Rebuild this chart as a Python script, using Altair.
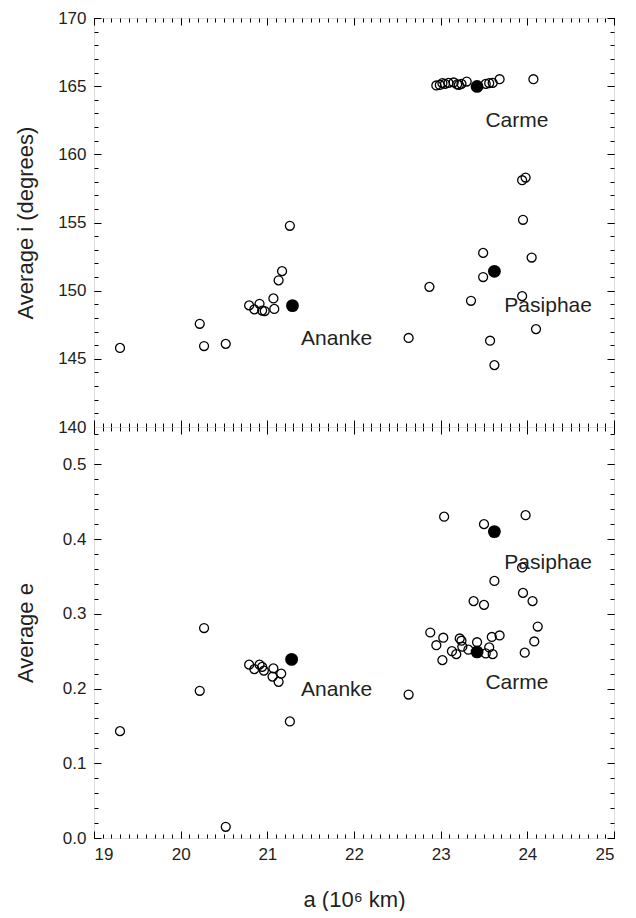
import altair as alt
import pandas as pd
import numpy as np

FONT = "Liberation Sans"
INK = "#231f20"

# ---- top panel: average inclination (degrees) ----
top_open_a = [22.95, 22.99, 23.02, 23.05, 23.09, 23.15, 23.19, 23.21, 23.24, 23.30,
              23.52, 23.56, 23.60, 23.68, 24.07,
              19.30, 20.22, 20.27, 20.52, 20.79, 20.85, 20.91, 20.94, 20.97, 21.07,
              21.08, 21.13, 21.17, 21.26, 22.63, 22.87, 23.35, 23.49, 23.49, 23.57,
              23.62, 23.94, 23.95, 23.94, 23.98, 24.05, 24.10]
top_open_i = [165.05, 165.09, 165.22, 165.17, 165.24, 165.27, 165.14, 165.09, 165.17, 165.34,
              165.17, 165.22, 165.24, 165.51, 165.51,
              145.8, 147.57, 145.94, 146.1, 148.92, 148.63, 149.04, 148.54, 148.5, 149.43,
              148.66, 150.76, 151.43, 154.76, 146.53, 150.28, 149.26, 152.77, 151.0, 146.33,
              144.54, 149.6, 155.2, 158.1, 158.3, 152.43, 147.18]
top_fill_a = [21.29, 23.42, 23.62]
top_fill_i = [148.9, 164.98, 151.42]

# ---- bottom panel: average eccentricity ----
bot_open_a = [19.30, 20.22, 20.27, 20.52, 20.79, 20.85, 20.91, 20.94, 20.96, 21.07,
              21.06, 21.16, 21.13, 21.26, 22.63,
              22.88, 23.03, 22.95, 23.22, 23.24, 23.13, 23.18, 23.25, 23.32, 23.42,
              23.59, 23.68, 23.56, 23.52, 23.60, 24.08, 23.97, 23.02,
              23.04, 23.50, 23.98, 23.94, 23.62, 23.38, 23.50, 23.95, 24.06, 24.12]
bot_open_e = [0.143, 0.197, 0.281, 0.015, 0.232, 0.226, 0.232, 0.229, 0.224, 0.227,
              0.216, 0.220, 0.209, 0.156, 0.192,
              0.275, 0.268, 0.258, 0.267, 0.264, 0.250, 0.246, 0.256, 0.252, 0.262,
              0.269, 0.271, 0.255, 0.247, 0.246, 0.263, 0.248, 0.238,
              0.430, 0.420, 0.432, 0.362, 0.344, 0.317, 0.312, 0.328, 0.317, 0.283]
bot_fill_a = [21.28, 23.42, 23.62]
bot_fill_e = [0.239, 0.249, 0.410]

# ---- group labels ----
label_names = ["Carme", "Ananke", "Pasiphae"]
label_a = [23.88, 21.80, 24.24]
top_label_i = [162.46, 146.45, 148.9]
bot_label_e = [0.208, 0.198, 0.368]

# ---- axes ----
x_major = [19, 20, 21, 22, 23, 24, 25]
x_minor = [round(v, 1) for v in np.arange(19.0, 25.001, 0.1)]
i_major = [140, 145, 150, 155, 160, 165, 170]
i_minor = list(range(140, 171))
e_major = [0.0, 0.1, 0.2, 0.3, 0.4, 0.5]
e_minor = [round(v, 2) for v in np.arange(0.0, 0.551, 0.02)]

W = 520
H_TOP = 409
H_BOT = 411

xscale = alt.Scale(domain=[19, 25], nice=False, zero=False)


def tick_axis(orient, values, size):
    return alt.Axis(orient=orient, values=values, labels=False, domain=False,
                    grid=False, ticks=True, tickSize=size, offset=-size,
                    tickColor="black", tickWidth=1, title=None,
                    minExtent=0, maxExtent=0)


def panel(df_open, df_fill, df_lab, ycol, yscale, ymaj, ymin, yfmt, ytitle, h, show_x):
    base = alt.Chart(df_open)
    layers = []
    # tick layers (inward ticks on all four sides)
    specs = [("bottom", "left", 7, x_major, ymaj), ("bottom", "left", 4, x_minor, ymin),
             ("top", "right", 7, x_major, ymaj), ("top", "right", 4, x_minor, ymin)]
    for xo, yo, s, xv, yv in specs:
        layers.append(base.mark_point(opacity=0).encode(
            x=alt.X("a:Q", scale=xscale, axis=tick_axis(xo, xv, s)),
            y=alt.Y(f"{ycol}:Q", scale=yscale, axis=tick_axis(yo, yv, s)),
        ))
    # label layer
    if show_x:
        xaxis = alt.Axis(orient="bottom", values=x_major, format="d", ticks=False, tickSize=0,
                         domain=False, grid=False, labelFontSize=17, labelFont=FONT,
                         labelColor=INK, labelPadding=8, title="a (10\u2076 km)",
                         titleFont=FONT, titleFontSize=22, titleFontWeight="normal",
                         titleColor=INK, titleX=W / 2, titleY=68,
                         titleBaseline="alphabetic")
    else:
        xaxis = None
    yaxis = alt.Axis(orient="left", values=ymaj, format=yfmt, ticks=False, tickSize=0,
                     domain=False, grid=False, labelFontSize=17, labelFont=FONT,
                     labelColor=INK, labelPadding=8, title=ytitle, titleFont=FONT,
                     titleFontSize=22, titleFontWeight="normal", titleColor=INK,
                     titleX=-69, titleY=h / 2, titleBaseline="middle")
    layers.append(base.mark_point(opacity=0).encode(
        x=alt.X("a:Q", scale=xscale, axis=xaxis),
        y=alt.Y(f"{ycol}:Q", scale=yscale, axis=yaxis),
    ))
    # data
    layers.append(base.mark_point(shape="circle", filled=False, stroke="black",
                                  strokeWidth=1.3, size=80, opacity=1).encode(
        x=alt.X("a:Q", scale=xscale, axis=None),
        y=alt.Y(f"{ycol}:Q", scale=yscale, axis=None),
    ))
    layers.append(alt.Chart(df_fill).mark_circle(color="black", size=165, opacity=1).encode(
        x=alt.X("a:Q", scale=xscale, axis=None),
        y=alt.Y(f"{ycol}:Q", scale=yscale, axis=None),
    ))
    layers.append(alt.Chart(df_lab).mark_text(font=FONT, fontSize=21, color=INK,
                                              align="center", baseline="middle").encode(
        x=alt.X("a:Q", scale=xscale, axis=None),
        y=alt.Y(f"{ycol}:Q", scale=yscale, axis=None),
        text="name:N",
    ))
    return alt.layer(*layers).resolve_axis(x="independent", y="independent").properties(
        width=W, height=h)


df_top_open = pd.DataFrame({"a": top_open_a, "i": top_open_i})
df_top_fill = pd.DataFrame({"a": top_fill_a, "i": top_fill_i})
df_top_lab = pd.DataFrame({"a": label_a, "i": top_label_i, "name": label_names})
df_bot_open = pd.DataFrame({"a": bot_open_a, "e": bot_open_e})
df_bot_fill = pd.DataFrame({"a": bot_fill_a, "e": bot_fill_e})
df_bot_lab = pd.DataFrame({"a": label_a, "e": bot_label_e, "name": label_names})

top = panel(df_top_open, df_top_fill, df_top_lab, "i",
            alt.Scale(domain=[140, 170], nice=False, zero=False),
            i_major, i_minor, "d", "Average i (degrees)", H_TOP, False)
bot = panel(df_bot_open, df_bot_fill, df_bot_lab, "e",
            alt.Scale(domain=[0, 0.55], nice=False, zero=False),
            e_major, e_minor, ".1f", "Average e", H_BOT, True)

chart = alt.vconcat(top, bot, spacing=0, bounds="flush").properties(
    padding={"left": 5, "top": 0, "right": 5, "bottom": 0}
).configure_view(stroke="black", strokeWidth=1.2).configure(background="white")

chart.save("out.html", embed_options={"renderer": "svg", "actions": False})
